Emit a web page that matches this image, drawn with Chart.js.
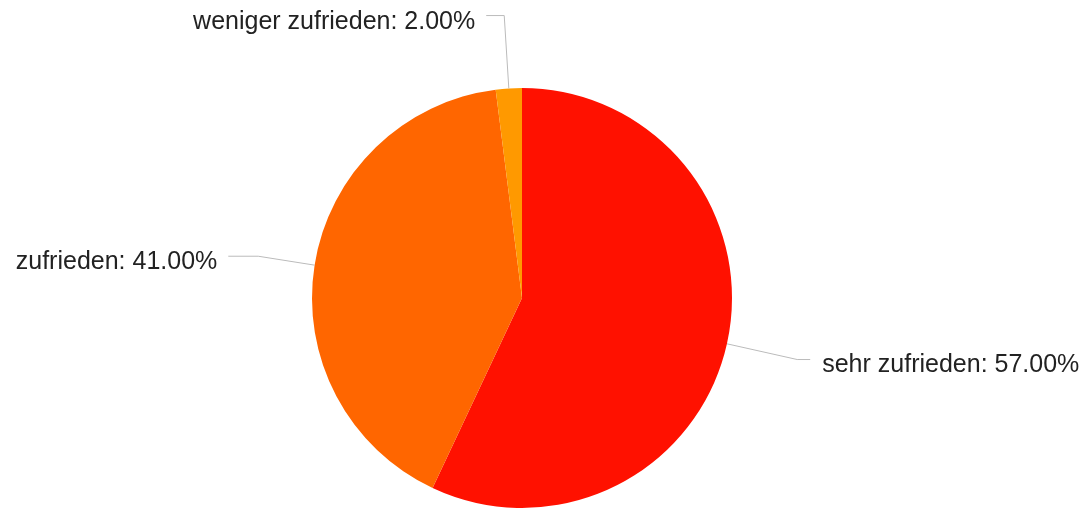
<!DOCTYPE html>
<html>
<head>
<meta charset="utf-8">
<script src="https://cdn.jsdelivr.net/npm/chart.js@4/dist/chart.umd.min.js"></script>
<style>
    html, body { margin: 0; padding: 0; background: #fff; }
    #holder { width: 1091px; height: 512px; position: relative; }
</style>
</head>
<body>
<div id="holder"><canvas id="chart-area"></canvas></div>
<script>
var labels = ['sehr zufrieden', 'zufrieden', 'weniger zufrieden'];
var values = [57, 41, 2];
var colors = ['#ff1100', '#ff6600', '#ff9900'];

// leader line lengths per slice (radial part, horizontal part)
var leaderLen = [72, 57, 73];
var elbowLen = [13, 30, 18];

var leaderLabels = {
    id: 'leaderLabels',
    afterDatasetsDraw: function (chart) {
        var ctx = chart.ctx;
        var meta = chart.getDatasetMeta(0);
        var total = values.reduce(function (a, b) { return a + b; }, 0);
        ctx.save();
        ctx.font = '25px "Liberation Sans", Arial, sans-serif';
        ctx.textBaseline = 'alphabetic';
        meta.data.forEach(function (arc, i) {
            var p = arc.getProps(['x', 'y', 'startAngle', 'endAngle', 'outerRadius'], true);
            var mid = (p.startAngle + p.endAngle) / 2;
            var dx = Math.cos(mid), dy = Math.sin(mid);
            var px = p.x + dx * p.outerRadius, py = p.y + dy * p.outerRadius;
            var ex = px + dx * leaderLen[i], ey = py + dy * leaderLen[i];
            var right = dx >= 0 && Math.abs(dx) > 0.2;
            var hx = right ? ex + elbowLen[i] : ex - elbowLen[i];
            ctx.strokeStyle = '#bbbbbb';
            ctx.lineWidth = 1;
            ctx.beginPath();
            ctx.moveTo(px, py);
            ctx.lineTo(ex, ey);
            ctx.lineTo(hx, ey);
            ctx.stroke();
            var txt = labels[i] + ': ' + (values[i] / total * 100).toFixed(2) + '%';
            ctx.fillStyle = '#222222';
            if (right) {
                ctx.textAlign = 'left';
                ctx.fillText(txt, hx + 12, ey + 12);
            } else {
                ctx.textAlign = 'right';
                ctx.fillText(txt, hx - 11, ey + 13);
            }
        });
        ctx.restore();
    }
};

var config = {
    type: 'pie',
    data: {
        labels: labels,
        datasets: [{
            data: values,
            backgroundColor: colors,
            borderWidth: 0
        }]
    },
    options: {
        responsive: true,
        maintainAspectRatio: false,
        animation: false,
        layout: { padding: { left: 312, right: 359, top: 88, bottom: 4 } },
        plugins: {
            legend: { display: false },
            tooltip: { enabled: false }
        }
    },
    plugins: [leaderLabels]
};
var myPie = new Chart(document.getElementById('chart-area').getContext('2d'), config);
</script>
</body>
</html>
